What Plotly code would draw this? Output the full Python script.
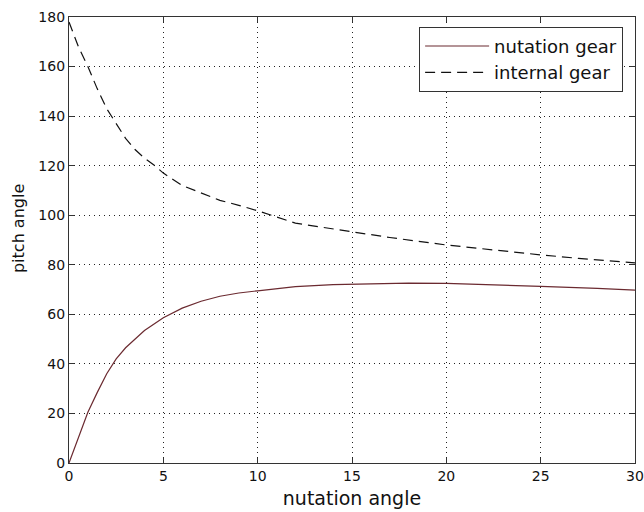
import plotly.graph_objects as go

# nutation angle samples
x_nut = [0, 0.5, 1, 1.5, 2, 2.5, 3, 4, 5, 6, 7, 8, 9, 10, 12, 14, 16, 18, 20, 22, 25, 28, 30]
nutation_gear = [0, 10.5, 20.5, 28.5, 36, 42, 46.5, 53.5, 58.6, 62.5, 65.3, 67.3, 68.6, 69.5,
                 71.2, 72.0, 72.4, 72.6, 72.5, 72.1, 71.3, 70.5, 69.8]

x_int = [0, 0.5, 1, 1.5, 2, 2.5, 3, 3.5, 4, 4.5, 5, 6, 7, 8, 9, 10, 12, 14, 15, 17, 20, 22, 25, 27, 30]
internal_gear = [178, 168, 160, 151, 143, 137, 131, 126.5, 123, 120.3, 117, 112, 109, 106, 104,
                 101.8, 96.8, 94.5, 93.2, 91, 88, 86.3, 84, 82.6, 80.8]

x_ticks = [0, 5, 10, 15, 20, 25, 30]
y_ticks = [0, 20, 40, 60, 80, 100, 120, 140, 160, 180]

FONT = "DejaVu Sans, Liberation Sans, Arial, sans-serif"

fig = go.Figure()
fig.add_trace(go.Scatter(x=x_nut, y=nutation_gear, mode="lines", name="nutation gear",
                         line=dict(color="#6b2a30", width=1.2)))
fig.add_trace(go.Scatter(x=x_int, y=internal_gear, mode="lines", name="internal gear",
                         line=dict(color="#111111", width=1.2, dash="10px,6px")))

axis_common = dict(showline=True, linecolor="#333333", linewidth=1.2, mirror="ticks",
                   ticks="inside", ticklen=5, tickcolor="#333333", automargin=False,
                   showgrid=True, gridcolor="#222222", griddash="1px,4px", gridwidth=1,
                   zeroline=False, tickfont=dict(size=14, color="#111111", family=FONT))

fig.update_xaxes(range=[0, 30], tickvals=x_ticks,
                 title=dict(text="nutation angle", font=dict(size=19, color="#111111", family=FONT), standoff=8),
                 **axis_common)
fig.update_yaxes(range=[0, 180], tickvals=y_ticks, **axis_common)

fig.add_annotation(text="pitch angle", textangle=-90, xref="paper", yref="paper",
                   x=-0.088, y=0.525, xanchor="center", yanchor="middle", showarrow=False,
                   font=dict(size=16, color="#111111", family=FONT))

fig.update_layout(
    width=644, height=512,
    margin=dict(l=69, r=9, t=17, b=49),
    paper_bgcolor="white", plot_bgcolor="white",
    font=dict(family=FONT, color="#111111"),
    legend=dict(x=0.979, y=0.978, xanchor="right", yanchor="top",
                bgcolor="white", bordercolor="#333333", borderwidth=1,
                font=dict(size=18, family=FONT), tracegroupgap=0, itemwidth=64),
)

fig.write_html("out.html", config={"displayModeBar": False},
               post_script="document.body.style.margin='0';")
